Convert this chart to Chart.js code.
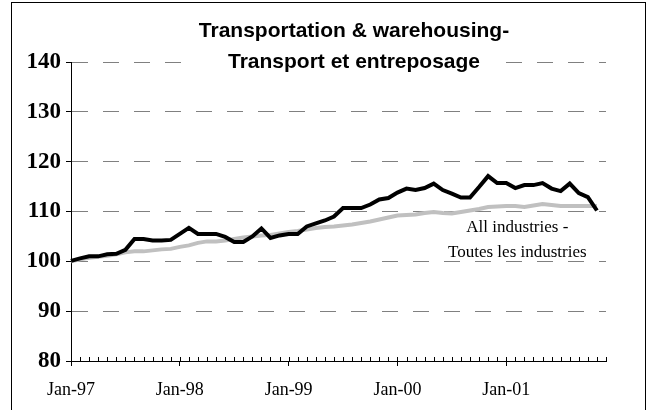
<!DOCTYPE html>
<html>
<head>
<meta charset="utf-8">
<script src="https://cdn.jsdelivr.net/npm/chart.js@4/dist/chart.umd.min.js"></script>
<style>
  body { margin: 0; background: #fff; }
  canvas { display: block; }
</style>
</head>
<body>
<canvas id="chart" width="650" height="410"></canvas>
<script>
// ---- DATA ----
const years = ["97", "98", "99", "00", "01"];
const monthNames = ["Jan", "Feb", "Mar", "Apr", "May", "Jun", "Jul", "Aug", "Sep", "Oct", "Nov", "Dec"];
const yTicks = [80, 90, 100, 110, 120, 130, 140];

// Transportation & warehousing (index, Jan-97 = 100)
const transportValues = [
  100.1, 100.6, 101.0, 101.0, 101.4, 101.5, 102.3, 104.5, 104.5, 104.2, 104.2, 104.3,
  105.5, 106.7, 105.5, 105.5, 105.5, 104.9, 103.9, 103.9, 105.0, 106.6, 104.7, 105.2,
  105.5, 105.5, 107.0, 107.6, 108.2, 109.0, 110.7, 110.7, 110.7, 111.4, 112.4, 112.7,
  113.8, 114.6, 114.3, 114.7, 115.6, 114.3, 113.6, 112.8, 112.8, 114.9, 117.1, 115.7,
  115.7, 114.7, 115.3, 115.3, 115.7, 114.6, 114.1, 115.6, 113.7, 112.9, 110.2
];
// All industries
const allIndustriesValues = [
  100.0, 100.4, 100.7, 100.9, 101.1, 101.4, 101.8, 102.0, 102.0, 102.2, 102.4, 102.5,
  102.9, 103.2, 103.7, 104.0, 104.0, 104.2, 104.5, 104.8, 105.0, 105.2, 105.3, 105.6,
  105.9, 106.1, 106.4, 106.7, 106.9, 107.0, 107.2, 107.4, 107.7, 108.0, 108.4, 108.8,
  109.2, 109.3, 109.4, 109.7, 109.9, 109.7, 109.6, 109.9, 110.2, 110.5, 110.9, 111.0,
  111.1, 111.1, 110.9, 111.2, 111.5, 111.3, 111.1, 111.1, 111.1, 111.1, 111.1
];

const titleLines = ["Transportation & warehousing-", "Transport et entreposage"];
const seriesNote = ["All industries -", "Toutes les industries"];

// month categories Jan-97 .. Dec-01 (last one has no data)
const categories = [];
years.forEach(y => monthNames.forEach(m => categories.push(m + "-" + y)));

// ---- PLUGINS ----
// month tick marks pointing up into the plot, title box, outer frame
const decorPlugin = {
  id: "decor",
  afterDraw(chart) {
    const ctx = chart.ctx;
    const xs = chart.scales.x;
    const ys = chart.scales.y;
    const area = chart.chartArea;

    ctx.save();
    ctx.strokeStyle = "#000";
    ctx.lineWidth = 1;
    ctx.beginPath();
    for (let i = 0; i < categories.length; i++) {
      const x = Math.round(xs.getPixelForValue(i)) + 0.5;
      ctx.moveTo(x, area.bottom);
      ctx.lineTo(x, area.bottom - 4);
    }
    ctx.stroke();

    // title sits on a white box over the top gridline
    ctx.fillStyle = "#fff";
    ctx.fillRect(193, 10, 307, 66);
    ctx.fillStyle = "#000";
    ctx.textAlign = "center";
    ctx.textBaseline = "alphabetic";
    ctx.font = "bold 21px 'Liberation Sans', Arial, sans-serif";
    ctx.fillText(titleLines[0], 354, 37);
    ctx.fillText(titleLines[1], 354, 68);

    // series label next to the grey line
    ctx.font = "17px 'Liberation Serif', 'Times New Roman', serif";
    const nx = xs.getPixelForValue(49);
    const ny = ys.getPixelForValue(106);
    ctx.fillText(seriesNote[0], nx + 2, ny + 1);
    ctx.fillText(seriesNote[1], nx + 2, ny + 26);

    // chart frame
    ctx.strokeRect(11.5, 2.5, 634, 412);
    ctx.restore();
  }
};

// ---- CHART ----
new Chart(document.getElementById("chart"), {
  type: "line",
  data: {
    labels: categories,
    datasets: [
      {
        label: "Transportation & warehousing",
        data: transportValues,
        borderColor: "#000",
        borderWidth: 4,
        pointRadius: 0,
        tension: 0,
        order: 0
      },
      {
        label: "All industries",
        data: allIndustriesValues,
        borderColor: "#c0c0c0",
        borderWidth: 4,
        pointRadius: 0,
        tension: 0,
        order: 1
      }
    ]
  },
  options: {
    responsive: false,
    animation: false,
    layout: { padding: { left: 10, right: 44, top: 62, bottom: 0 } },
    plugins: {
      legend: { display: false },
      title: { display: false },
      tooltip: { enabled: false }
    },
    scales: {
      x: {
        offset: false,
        afterFit: s => { s.height = 49; },
        border: { color: "#000", width: 1 },
        grid: {
          drawOnChartArea: false,
          drawTicks: true,
          tickLength: 5,
          tickColor: c => (c.index % 12 === 0 ? "#000" : "rgba(0,0,0,0)")
        },
        ticks: {
          autoSkip: false,
          maxRotation: 0,
          padding: 13,
          color: "#000",
          font: { family: "'Liberation Serif', 'Times New Roman', serif", size: 18 },
          callback: (v, i) => (i % 12 === 0 && i < categories.length - 1 ? categories[i] : "")
        }
      },
      y: {
        min: yTicks[0],
        max: yTicks[yTicks.length - 1],
        afterFit: s => { s.width = 61; },
        afterBuildTicks: s => { s.ticks = yTicks.map(v => ({ value: v })); },
        border: { color: "#000", width: 1, dash: [16, 15] },
        grid: {
          color: c => (c.tick && c.tick.value === yTicks[0] ? "rgba(0,0,0,0)" : "#808080"),
          tickColor: "#000",
          tickBorderDash: [],
          tickLength: 5
        },
        ticks: {
          padding: 5,
          color: "#000",
          font: { family: "'Liberation Serif', 'Times New Roman', serif", size: 23, weight: "bold" }
        }
      }
    }
  },
  plugins: [decorPlugin]
});
</script>
</body>
</html>
